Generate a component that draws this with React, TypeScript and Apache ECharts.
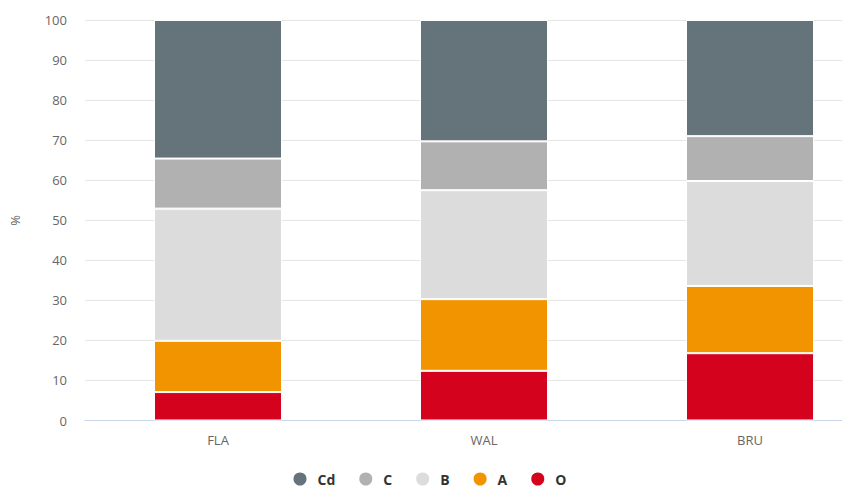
import React, { useEffect, useRef } from "react";
import * as echarts from "echarts";

const categories = ["FLA", "WAL", "BRU"];
const seriesNames = ["O", "A", "B", "C", "Cd"];
const valuesO = [7.1, 12.4, 16.8];
const valuesA = [12.8, 17.9, 16.8];
const valuesB = [33.0, 27.2, 26.2];
const valuesC = [12.5, 12.2, 11.2];
const valuesCd = [34.6, 30.3, 29.0];
const legendOrder = ["Cd", "C", "B", "A", "O"];
const colors: Record<string, string> = {
  O: "#d4021d",
  A: "#f29400",
  B: "#dcdcdc",
  C: "#b1b1b1",
  Cd: "#65737a",
};

export default function App() {
  const ref = useRef<HTMLDivElement>(null);
  useEffect(() => {
    if (!ref.current) return;
    const chart = echarts.init(ref.current, undefined, { renderer: "svg" });
    const dataMap: Record<string, number[]> = {
      O: valuesO,
      A: valuesA,
      B: valuesB,
      C: valuesC,
      Cd: valuesCd,
    };
    const font = "'Open Sans', 'DejaVu Sans', sans-serif";
    chart.setOption({
      animation: false,
      textStyle: { fontFamily: font },
      grid: { left: 82, top: 20, right: 3, height: 400.5 },
      legend: {
        data: legendOrder,
        left: 286.5,
        top: 465.5,
        icon: "circle",
        itemWidth: 25,
        itemHeight: 15,
        itemGap: 22,
        textStyle: { fontSize: 14, fontWeight: "bold", color: "#333", fontFamily: font },
      },
      xAxis: {
        type: "category",
        data: categories,
        axisLine: { lineStyle: { color: "#ccd6eb" } },
        axisTick: { show: false },
        axisLabel: { color: "#666", fontSize: 13, margin: 13 },
      },
      yAxis: {
        type: "value",
        min: 0,
        max: 100,
        interval: 10,
        name: "%",
        nameLocation: "middle",
        nameRotate: 90,
        nameGap: 64,
        nameTextStyle: { color: "#666", fontSize: 13 },
        axisLabel: { color: "#666", fontSize: 13, margin: 18 },
        splitLine: { lineStyle: { color: "#e6e6e6" } },
      },
      series: seriesNames.map((n) => ({
        name: n,
        type: "bar",
        stack: "total",
        barWidth: 128,
        data: dataMap[n],
        itemStyle: { color: colors[n], borderColor: "#ffffff", borderWidth: 1 },
      })),
    });
    return () => chart.dispose();
  }, []);
  return (
    <div
      ref={ref}
      style={{ position: "fixed", left: 0, top: 0, width: 886, height: 488, background: "#fff" }}
    />
  );
}
